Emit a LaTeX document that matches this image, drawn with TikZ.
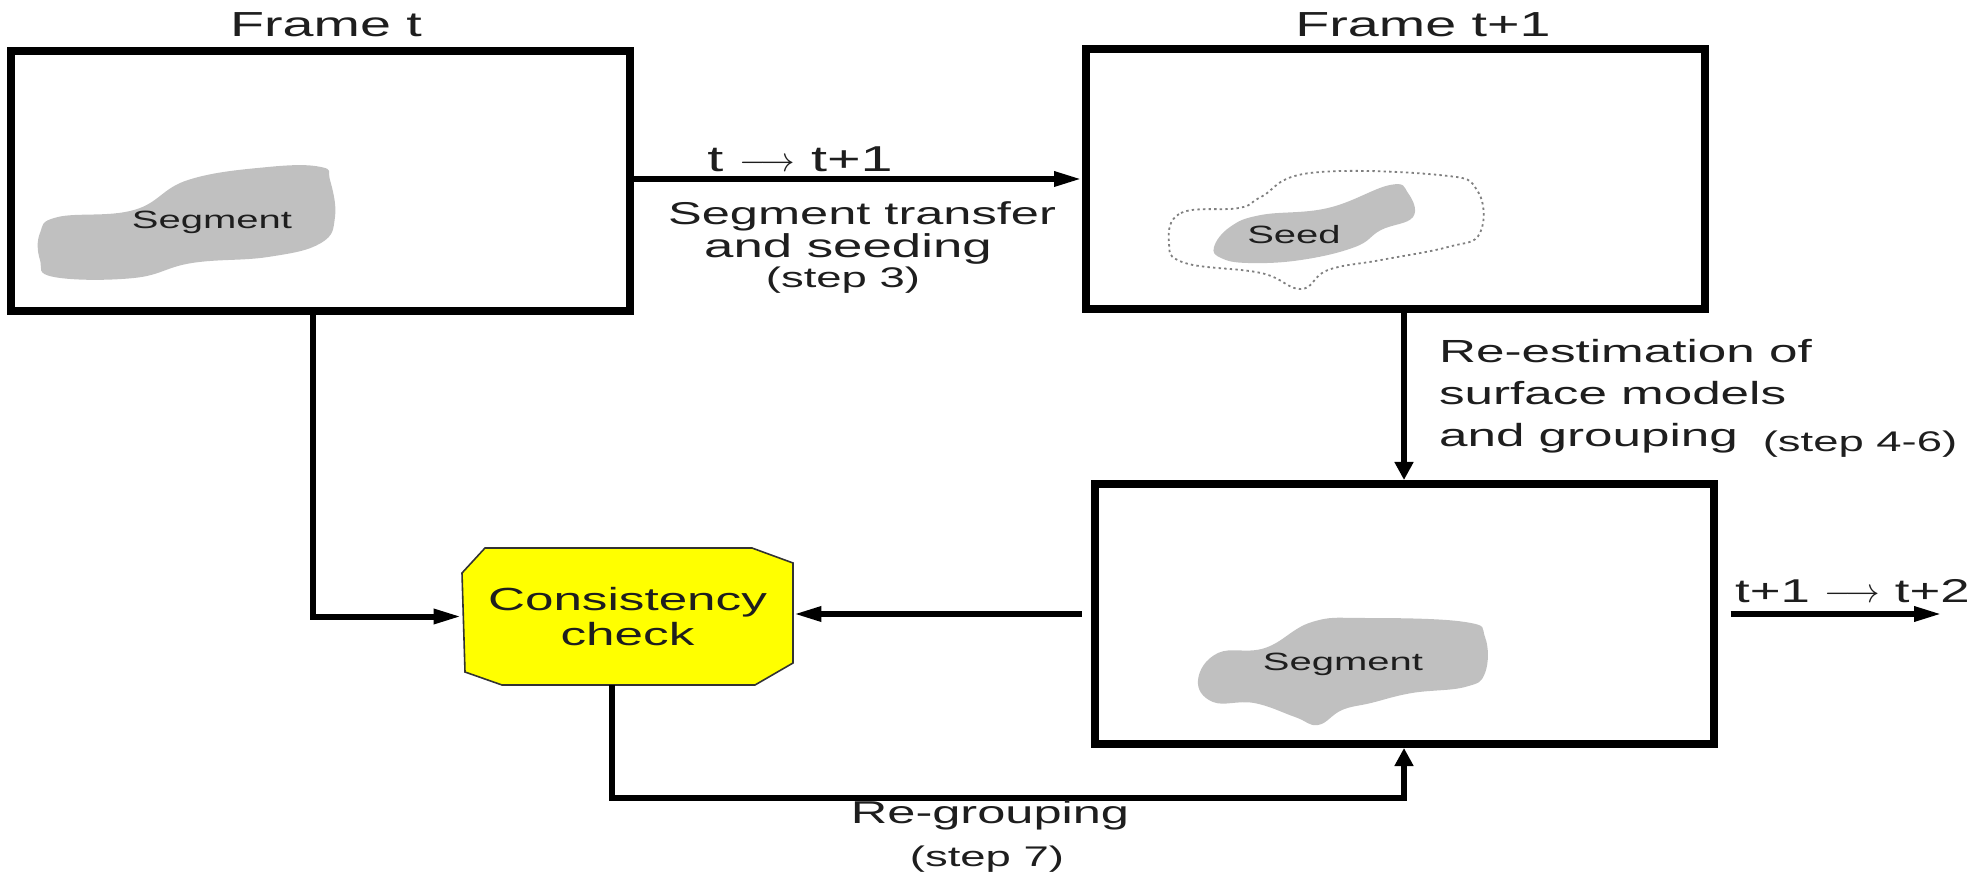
\documentclass[tikz,border=0pt]{standalone}
\usepackage{fontspec}
\setmainfont{Liberation Sans}[FakeStretch=1.6]
\usetikzlibrary{arrows.meta}
\definecolor{blobgray}{RGB}{192,192,192}
\definecolor{ccyellow}{RGB}{255,255,0}
\definecolor{inkgray}{RGB}{30,30,30}

\begin{document}
\begin{tikzpicture}[x=0.5pt, y=-0.5pt,
	framebox/.style={draw, line width=4pt, minimum width=309.5pt, minimum height=130pt, inner sep=0pt},
	flow/.style={line width=3pt},
	arr/.style={flow, -{Triangle[length=14pt, width=7pt]}},
	varr/.style={flow, -{Triangle[length=9pt, width=9pt]}},
	blob/.style={fill=blobgray},
	title/.style={anchor=base, text=inkgray, font=\fontsize{17.4}{21}\selectfont},
	lbl/.style={anchor=base, text=inkgray, font=\fontsize{15.8}{17}\selectfont},
	steplbl/.style={anchor=base, text=inkgray, font=\fontsize{14.2}{17}\selectfont},
	bloblbl/.style={anchor=base, text=inkgray, font=\fontsize{12.5}{15}\selectfont}]

\useasboundingbox (0,0) rectangle (1980,876);

% frames
\node[framebox] (f1) at (320.5,181.5) {};
\node[framebox] (f2) at (1395.5,179) {};
\node[framebox] (f3) at (1404,614) {};

\node[title] (tf1) at (326,37) {Frame t};
\node[title] (tf2) at (1423,37) {Frame t+1};

% segments and seed
\fill[blob] plot[smooth cycle, tension=0.7] coordinates {(40,233) (58,217) (134,210) (188,180) (268,167) (321,167) (330,180) (335,217) (321,243) (268,257) (192,263) (134,278) (54,277) (40,260)};
\node[bloblbl] (seg1) at (212,229) {Segment};

\draw[gray, line width=0.9pt, dash pattern=on 1.2pt off 1.6pt] plot[smooth cycle, tension=0.7] coordinates {(1169,243) (1181,213) (1239,208) (1261,197) (1310,173) (1439,175) (1477,190) (1480,233) (1448,247) (1381,260) (1328,270) (1301,289) (1261,273) (1185,263)};
\fill[blob] plot[smooth cycle, tension=0.7] coordinates {(1214,247) (1230,227) (1261,215) (1328,208) (1390,185) (1408,193) (1413,217) (1381,230) (1355,247) (1301,260) (1248,263) (1221,258)};
\node[bloblbl] (seed) at (1294,244) {Seed};

\fill[blob] plot[smooth cycle, tension=0.7] coordinates {(1198,680) (1218,653) (1265,648) (1312,622) (1365,618) (1465,622) (1485,637) (1485,673) (1465,687) (1412,693) (1371,703) (1342,710) (1318,725) (1295,717) (1254,703) (1213,702)};
\node[bloblbl] (seg3) at (1343,670) {Segment};

% consistency check
\filldraw[fill=ccyellow, draw=black!80, line width=0.8pt] (485,548) -- (752,548) -- (793,563) -- (793,663) -- (755,685) -- (502,685) -- (465,672) -- (462,573) -- cycle;
\node[minimum width=165.5pt, minimum height=68.5pt, inner sep=0pt, align=center, text=inkgray, font=\fontsize{16}{17.5}\selectfont] (cc) at (627.5,616.5) {Consistency\\check};

% connectors
\draw[arr] (f2.west -| f1.east) -- (f2.west);
\node[lbl, font=\fontsize{18}{21}\selectfont] (tr1) at (800,172) {t $\longrightarrow$ t+1};
\node[lbl] (tr2) at (862,225) {Segment transfer};
\node[lbl, font=\fontsize{16.5}{17}\selectfont] (tr3) at (848,258) {and seeding};
\node[steplbl] (tr4) at (843,288) {(step 3)};

\draw[varr] (f2.south -| f3.north) -- (f3.north);
\node[anchor=base west, align=left, text=inkgray, font=\fontsize{16}{21}\selectfont] (re1) at (1432,447) {Re-estimation of\\surface models\\and grouping};
\node[steplbl] (re2) at (1860,452) {(step 4-6)};

\draw[arr] ([xshift=-4pt]f1.south) |- (cc.west);
\draw[arr, shorten <=4.5pt] (f3.west) -- (f3.west -| cc.east);

\coordinate (rg) at (1404,798);
\draw[varr] ([xshift=-8pt]cc.south) |- (rg) -- (f3.south);
\node[lbl] (rg1) at (990,823) {Re-grouping};
\node[steplbl] (rg2) at (987,866) {(step 7)};

\coordinate (nxt) at (1942,614);
\draw[arr, shorten <=6.5pt] (f3.east) -- (nxt);
\node[lbl, anchor=base west, font=\fontsize{16.5}{19}\selectfont] (tn) at (1728,603) {t+1 $\longrightarrow$ t+2};

\end{tikzpicture}
\end{document}
